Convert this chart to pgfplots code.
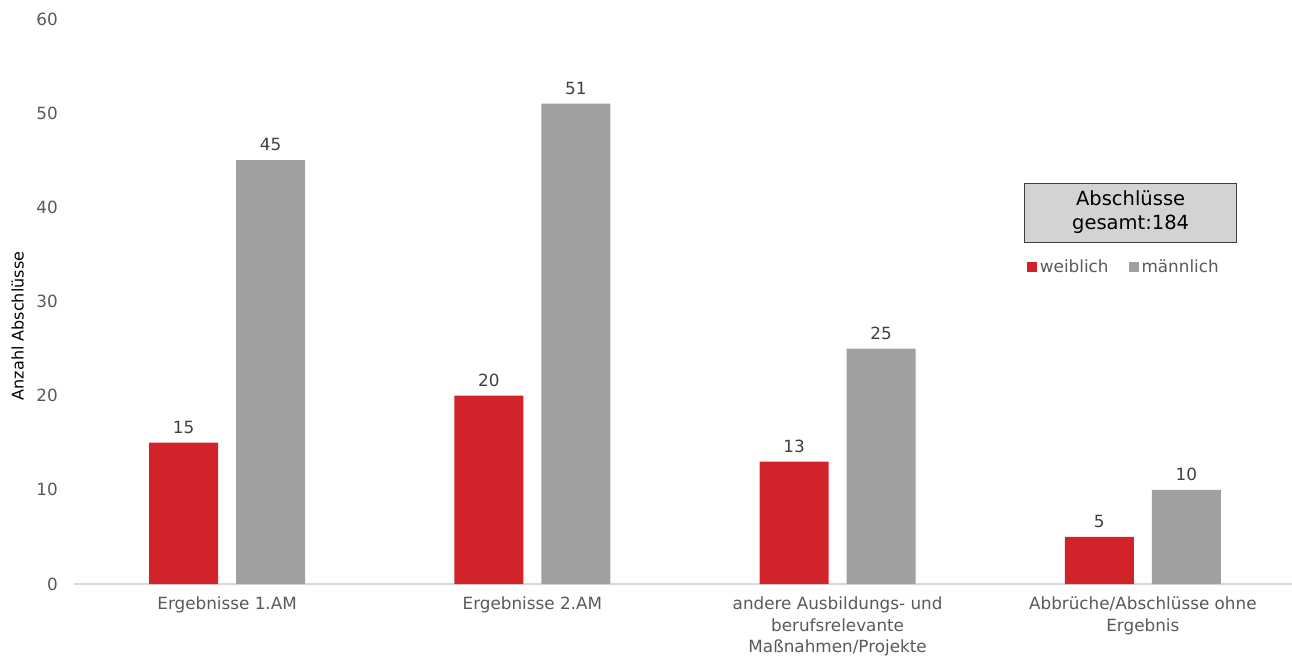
\documentclass[border=0pt]{standalone}
\usepackage{fontspec}
\setmainfont{DejaVu Sans}
\usepackage{pgfplots}
\pgfplotsset{compat=1.18}

\definecolor{barred}{HTML}{D2232A}
\definecolor{bargray}{HTML}{A0A0A2}
\definecolor{ticktext}{HTML}{595959}
\definecolor{valtext}{HTML}{404040}
\definecolor{baseline}{HTML}{D9D9D9}
\definecolor{boxfill}{HTML}{D3D3D3}

\newcommand{\chartfont}{\fontsize{16.8}{21.5}\selectfont}

\begin{document}
\begin{tikzpicture}
\begin{axis}[
  scale only axis,
  width=1221pt, height=565pt,
  xmin=-0.5, xmax=3.5,
  ymin=0, ymax=60,
  ytick={0,10,...,60},
  xtick={0,1,2,3},
  xticklabels={
    Ergebnisse 1.AM,
    Ergebnisse 2.AM,
    {andere Ausbildungs- und\\berufsrelevante\\Maßnahmen/Projekte},
    {Abbrüche/Abschlüsse ohne\\Ergebnis}},
  /pgf/number format/assume math mode=true,
  major tick length=0pt,
  axis x line*=bottom,
  axis y line*=left,
  x axis line style={draw=baseline, line width=2pt, -},
  y axis line style={draw=none},
  yticklabel style={font=\chartfont, text=ticktext, inner sep=0pt, anchor=east, xshift=-16.5pt},
  xticklabel style={font=\chartfont, text=ticktext, inner sep=0pt, anchor=north, align=center, yshift=-13pt},
  ylabel={Anzahl Abschlüsse},
  ylabel style={font=\fontsize{16}{20}\selectfont, text=black, at={(axis description cs:-0.0466,0.4566)}, anchor=center},
  ybar,
  bar width=69pt,
  nodes near coords,
  every node near coord/.append style={font=\chartfont, text=valtext, inner sep=0pt, anchor=south, yshift=9pt},
  legend columns=2,
  legend image code/.code={\fill[#1] (0pt,-5pt) rectangle (10pt,5pt);},
  legend style={at={(axis description cs:0.7799,0.5611)}, anchor=west, draw=none, fill=none,
    inner sep=0pt, font=\chartfont, text=ticktext,
    /tikz/every even column/.append style={column sep=17pt},
    nodes={inner sep=3pt}},
  clip=false,
]
\addplot[fill=barred, draw=none, bar shift=-43.5pt] coordinates {(0,15) (1,20) (2,13) (3,5)};
\addplot[fill=bargray, draw=none, bar shift=43.5pt] coordinates {(0,45) (1,51) (2,25) (3,10)};
\legend{weiblich, männlich}
\node[draw=black!75, line width=1pt, fill=boxfill, minimum width=212pt, minimum height=59pt,
      align=center, font=\fontsize{19.5}{24}\selectfont, text=black]
  at (axis cs:2.96,39.45) {Abschlüsse\\gesamt:184};
\end{axis}
\pgfresetboundingbox
\path (current axis.south west) ++(-74.5pt,584pt) rectangle ++(1292pt,-661pt);
\end{tikzpicture}
\end{document}
